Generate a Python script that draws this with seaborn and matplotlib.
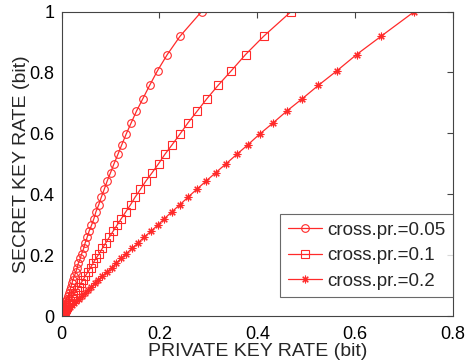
import matplotlib
matplotlib.use("Agg")
from matplotlib import pyplot as plt
import seaborn as sns

# secret key rate (same for all three curves)
secret_rate = [1.0, 0.919, 0.859, 0.806, 0.758, 0.714, 0.673, 0.634, 0.598, 0.563,
               0.531, 0.500, 0.471, 0.443, 0.416, 0.390, 0.366, 0.342, 0.320, 0.298,
               0.278, 0.258, 0.240, 0.222, 0.205, 0.189, 0.173, 0.159, 0.145, 0.131,
               0.119, 0.107, 0.096, 0.085, 0.075, 0.066, 0.057, 0.049, 0.042, 0.035,
               0.029, 0.023, 0.018, 0.014, 0.010, 0.007, 0.005, 0.003, 0.001, 0.0003, 0.0]

private_005 = [0.286, 0.242, 0.216, 0.196, 0.180, 0.166, 0.153, 0.142, 0.132, 0.123,
               0.115, 0.107, 0.100, 0.093, 0.087, 0.081, 0.076, 0.070, 0.066, 0.061,
               0.056, 0.052, 0.048, 0.045, 0.041, 0.038, 0.034, 0.032, 0.029, 0.026,
               0.023, 0.021, 0.019, 0.017, 0.015, 0.013, 0.011, 0.0096, 0.0082, 0.0068,
               0.0057, 0.0045, 0.0035, 0.0027, 0.002, 0.0014, 0.001, 0.0006, 0.0002, 0.0001, 0.0]

private_01 = [0.469, 0.413, 0.376, 0.347, 0.320, 0.297, 0.277, 0.258, 0.242, 0.226,
              0.211, 0.198, 0.185, 0.172, 0.161, 0.150, 0.141, 0.131, 0.122, 0.113,
              0.105, 0.097, 0.090, 0.083, 0.077, 0.070, 0.064, 0.059, 0.054, 0.048,
              0.044, 0.039, 0.035, 0.031, 0.027, 0.024, 0.021, 0.018, 0.015, 0.013,
              0.010, 0.0083, 0.0065, 0.0051, 0.0036, 0.0025, 0.0018, 0.0011, 0.0004, 0.0001, 0.0]

private_02 = [0.721, 0.653, 0.603, 0.563, 0.525, 0.492, 0.460, 0.432, 0.405, 0.381,
              0.358, 0.336, 0.315, 0.295, 0.276, 0.258, 0.242, 0.225, 0.210, 0.196,
              0.182, 0.168, 0.156, 0.144, 0.132, 0.122, 0.111, 0.102, 0.093, 0.083,
              0.075, 0.068, 0.060, 0.053, 0.047, 0.041, 0.035, 0.030, 0.026, 0.022,
              0.018, 0.014, 0.011, 0.0086, 0.0061, 0.0043, 0.0031, 0.0018, 0.0006, 0.0002, 0.0]

labels = ["cross.pr.=0.05", "cross.pr.=0.1", "cross.pr.=0.2"]
markers = ["o", "s", (8, 2, 0)]
ticks_x = [0, 0.2, 0.4, 0.6, 0.8]
ticks_y = [0, 0.2, 0.4, 0.6, 0.8, 1]

sns.set_style("white")
plt.rcParams["font.family"] = ["Liberation Sans", "DejaVu Sans"]

fig, ax = plt.subplots(figsize=(4.67, 3.62), dpi=100)
fig.subplots_adjust(left=0.132, right=0.970, bottom=0.127, top=0.968)

for xs, lab, mk in zip([private_005, private_01, private_02], labels, markers):
    sns.lineplot(x=xs, y=secret_rate, ax=ax, color="#ff2a2a", linewidth=0.9,
                 marker=mk, markersize=5.5, markerfacecolor="none",
                 markeredgecolor="#ff2a2a", markeredgewidth=0.8,
                 estimator=None, sort=False, legend=False)

ax.set_xlim(0, 0.8)
ax.set_ylim(0, 1)
ax.set_xticks(ticks_x)
ax.set_xticklabels(["0", "0.2", "0.4", "0.6", "0.8"])
ax.set_yticks(ticks_y)
ax.set_yticklabels(["0", "0.2", "0.4", "0.6", "0.8", "1"])
ax.tick_params(direction="in", top=True, right=True, length=4, width=0.8,
               color="#444444", labelsize=13, labelcolor="black")
ax.tick_params(axis="x", pad=7)
ax.tick_params(axis="y", pad=5)
for sp in ax.spines.values():
    sp.set_color("#444444")
    sp.set_linewidth(0.8)

ax.set_xlabel("PRIVATE KEY RATE (bit)", fontsize=14, labelpad=0)
ax.set_ylabel("SECRET KEY RATE (bit)", fontsize=14, labelpad=0)

leg = ax.legend(handles=ax.get_lines(), labels=labels, loc="lower right",
                bbox_to_anchor=(1.0, 0.061), fontsize=13.5, frameon=True,
                fancybox=False, edgecolor="#444444", handlelength=1.8,
                handletextpad=0.3, borderpad=0.4, labelspacing=0.45,
                borderaxespad=0.0)
leg.get_frame().set_linewidth(0.8)

fig.savefig("out.png", dpi=100)
